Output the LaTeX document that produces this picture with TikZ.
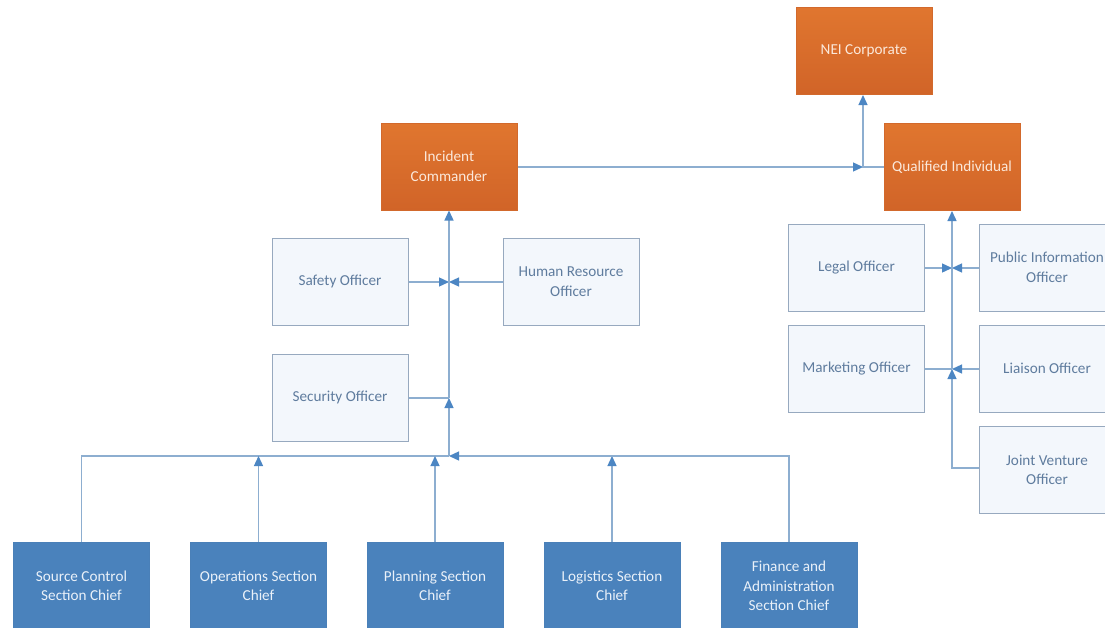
\documentclass[tikz,border=0pt]{standalone}
\usepackage{fontspec}
\setmainfont{Carlito}
\usetikzlibrary{arrows.meta}
\definecolor{orngtop}{HTML}{E0762F}
\definecolor{orngbot}{HTML}{D16428}
\definecolor{orngdraw}{HTML}{D2692C}
\definecolor{orngtxt}{HTML}{FBE8DA}
\definecolor{offfill}{HTML}{F3F7FC}
\definecolor{offdraw}{HTML}{97A9BF}
\definecolor{offtxt}{HTML}{5F7C9E}
\definecolor{chieffill}{HTML}{4A82BC}
\definecolor{chiefdraw}{HTML}{4A80B8}
\definecolor{chieftxt}{HTML}{EAF1F9}
\definecolor{linecol}{HTML}{8DAED0}
\definecolor{arrcol}{HTML}{4C86C3}
\begin{document}
\begin{tikzpicture}[x=1pt,y=-1pt,
  box/.style={minimum width=136pt, minimum height=87pt, inner sep=0pt, align=center,
    font=\fontsize{15.2}{19.5}\selectfont, line width=1pt},
  orangebox/.style={box, draw=orngdraw, top color=orngtop, bottom color=orngbot, text=orngtxt},
  officer/.style={box, draw=offdraw, fill=offfill, text=offtxt},
  chief/.style={box, draw=chiefdraw, fill=chieffill, text=chieftxt, minimum height=88pt},
  link/.style={draw=linecol, line width=1.3pt},
  arr/.style={link, -{Triangle[length=10pt,width=9pt,color=arrcol]}}]
\clip (0,0) rectangle (1105,627);
\fill[white] (0,0) rectangle (1105,627);

% top nodes
\node[orangebox] (nei) at (864,51) {NEI Corporate};
\node[orangebox] (ic) at (449,166.5) {Incident\\Commander};
\node[orangebox] (qi) at (952,167) {Qualified Individual};

% left officers
\node[officer] (safety) at (340,281.5) {Safety Officer};
\node[officer] (hr) at (571,281.5) {Human Resource\\Officer};
\node[officer] (security) at (340,397.5) {Security Officer};

% right officers
\node[officer] (legal) at (856.5,267.5) {Legal Officer};
\node[officer] (pio) at (1047,267.5) {Public Information\\Officer};
\node[officer] (marketing) at (856.5,368.5) {Marketing Officer};
\node[officer] (liaison) at (1047,368.5) {Liaison Officer};
\node[officer] (jv) at (1047,470) {Joint Venture\\Officer};

% section chiefs
\node[chief] (source) at (81.5,586) {Source Control\\Section Chief};
\node[chief] (ops) at (258.5,586) {Operations Section\\Chief};
\node[chief] (plan) at (435,586) {Planning Section\\Chief};
\node[chief] (logi) at (612,586) {Logistics Section\\Chief};
\node[chief] (fin) at (789,586) {Finance and\\Administration\\Section Chief};

% junctions
\coordinate (j1) at (863,167);
\coordinate (js) at (449,282);
\coordinate (jsec) at (449,398);
\coordinate (jb) at (449,456);
\coordinate (jl) at (952,268);
\coordinate (jm) at (952,369);
\coordinate (jjv) at (952,468);

% top connectors
\draw[arr] (ic.east |- j1) -- (j1);
\draw[arr] (qi.west |- j1) -- (j1) -- (nei.south -| j1);

% left officers
\draw[arr] (safety.east |- js) -- (js);
\draw[arr] (hr.west |- js) -- (js);
\draw[link] (security.east |- jsec) -- (jsec);
\draw[arr] (jb) -- (jsec);
\draw[arr] (jsec) -- (ic.south);

% section chiefs bus
\draw[link] (source.north) |- (jb);
\draw[arr] (ops.north) -- (ops.north |- jb);
\draw[arr] (plan.north) -- (plan.north |- jb);
\draw[arr] (logi.north) -- (logi.north |- jb);
\draw[arr] (fin.north) |- (jb);

% right officers
\draw[arr] (legal.east |- jl) -- (jl);
\draw[arr] (pio.west |- jl) -- (jl);
\draw[link] (marketing.east |- jm) -- (jm);
\draw[arr] (liaison.west |- jm) -- (jm);
\draw[arr] (jv.west |- jjv) -- (jjv) -- (jm);
\draw[arr] (jm) -- (qi.south);
\end{tikzpicture}
\end{document}
